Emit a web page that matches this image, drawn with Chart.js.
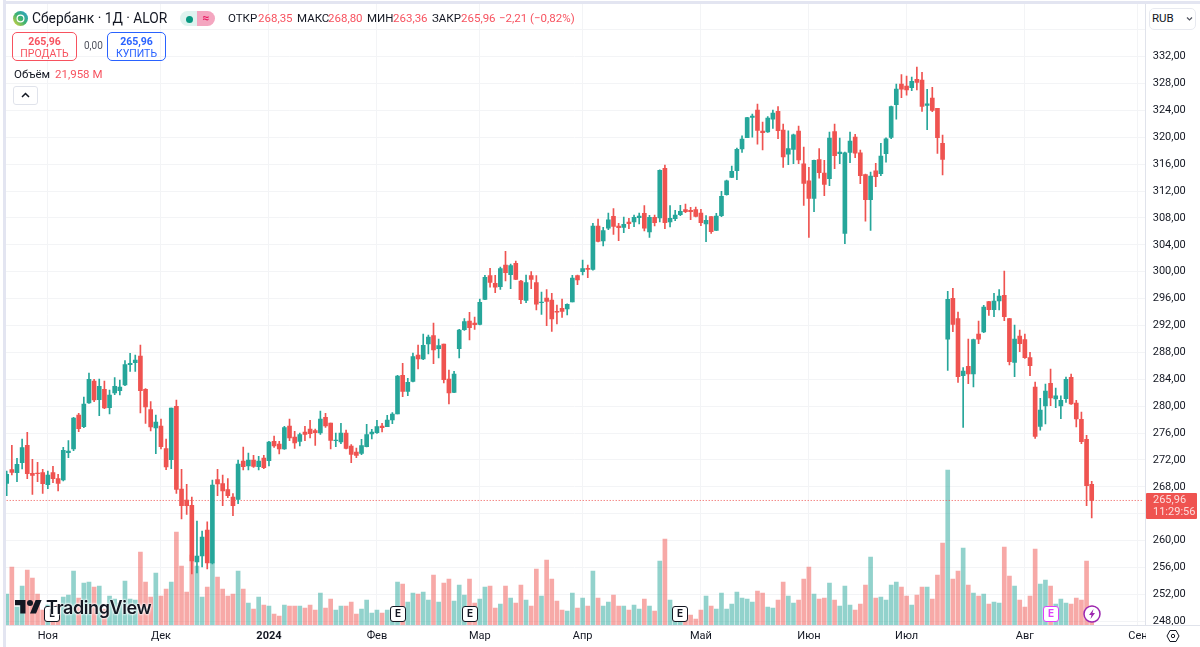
<!DOCTYPE html>
<html lang="ru">
<head>
<meta charset="utf-8">
<title>Сбербанк · 1Д · ALOR</title>
<script src="https://cdn.jsdelivr.net/npm/chart.js@4"></script>
<style>
    html, body { margin: 0; padding: 0; background: #fff; overflow: hidden; }
    body { width: 1200px; height: 647px; position: relative; font-family: Roboto, sans-serif; color: #131722; }
    canvas { position: absolute; left: 0; top: 0; }
    .o { position: absolute; white-space: nowrap; }
    .red { color: #f7525f; }
    .leg { top: 11px; font-size: 11.5px; line-height: 15px; }
    .box { border: 1px solid; border-radius: 5px; box-sizing: border-box; text-align: center; font-size: 10.5px; line-height: 12px; padding-top: 3px; }
    .ev { width: 16px; height: 16px; top: 606px; border: 1.5px solid #131722; border-radius: 3px; box-sizing: border-box; background: #fff; font: bold 10px/13px Inter, sans-serif; text-align: center; }
</style>
</head>
<body>
<canvas id="chart" width="1200" height="647"></canvas>

<div class="o" style="left:1146px;top:626px;width:54px;height:21px;background:#fff"></div>
<div class="o" style="left:1146px;top:625px;width:54px;height:1px;background:#e0e3eb"></div>
<div class="o" style="left:3px;top:0;width:3px;height:647px;background:#e3e5f1"></div>
<div class="o" style="left:3px;top:1px;width:1197px;height:3px;background:#e3e5f1"></div>

<svg class="o" style="left:13px;top:11px" width="15" height="15" viewBox="0 0 15 15">
    <defs><linearGradient id="sb" x1="0" y1="1" x2="1" y2="0"><stop offset="0" stop-color="#e8d63a"/><stop offset=".5" stop-color="#3cb371"/><stop offset="1" stop-color="#2a9fd6"/></linearGradient></defs>
    <circle cx="7.5" cy="7.5" r="7.5" fill="url(#sb)"/>
    <circle cx="7.5" cy="7.5" r="3.4" fill="none" stroke="#fff" stroke-width="1.2"/>
</svg>
<div class="o" style="left:32px;top:10px;font-size:13.8px;line-height:17px">Сбербанк · 1Д · ALOR</div>

<div class="o" style="left:180px;top:11px;width:18px;height:15px;background:#dff3ef;border-radius:8px 0 0 8px"></div>
<div class="o" style="left:186px;top:15.5px;width:7px;height:7px;background:#089981;border-radius:50%"></div>
<div class="o" style="left:197px;top:11px;width:18px;height:15px;background:#f4a6c0;border-radius:0 8px 8px 0;color:#e91e63;font-size:12px;line-height:15px;text-align:center;font-weight:bold">≈</div>

<div class="o leg" style="left:228px">ОТКР</div>
<div class="o leg red" style="left:258px">268,35</div>
<div class="o leg" style="left:297px">МАКС</div>
<div class="o leg red" style="left:328px">268,80</div>
<div class="o leg" style="left:367px">МИН</div>
<div class="o leg red" style="left:393px">263,36</div>
<div class="o leg" style="left:432px">ЗАКР</div>
<div class="o leg red" style="left:461px">265,96</div>
<div class="o leg red" style="left:499px">−2,21 (−0,82%)</div>

<div class="o box" style="left:12px;top:32px;width:65px;height:29px;border-color:#f7525f;color:#f7525f"><b>265,96</b><br>ПРОДАТЬ</div>
<div class="o" style="left:84px;top:40px;font-size:10px;line-height:12px;color:#50535e">0,00</div>
<div class="o box" style="left:107px;top:32px;width:59px;height:29px;border-color:#2962ff;color:#2962ff"><b>265,96</b><br>КУПИТЬ</div>

<div class="o" style="left:14px;top:67px;font-size:11.5px;line-height:15px">Объём</div>
<div class="o red" style="left:55px;top:67px;font-size:11.5px;line-height:15px">21,958 M</div>
<div class="o" style="left:13px;top:86px;width:25px;height:19px;border:1px solid #e0e3eb;border-radius:3px;box-sizing:border-box"></div>
<svg class="o" style="left:20px;top:91px" width="11" height="8" viewBox="0 0 11 8"><path d="M2 6l3.5-3.5L9 6" fill="none" stroke="#131722" stroke-width="1.5"/></svg>

<div class="o" style="left:1149px;top:8px;width:47px;height:22px;border:1px solid #e8eaf0;border-radius:5px;box-sizing:border-box;background:#fff"></div>
<div class="o" style="left:1152px;top:11px;font-size:11.5px;line-height:15px">RUB</div>
<svg class="o" style="left:1186px;top:16px" width="7" height="6" viewBox="0 0 7 6"><path d="M1 1.5l2.5 2.5L6 1.5" fill="none" stroke="#50535e" stroke-width="1.2"/></svg>

<div class="o" style="left:1146px;top:493px;width:51px;height:26px;background:#ef5350;border-radius:1px;color:rgba(255,255,255,.8);font-size:11px;line-height:12px;padding:1px 0 0 7px;box-sizing:border-box">265,96<br>11:29:56</div>

<div class="o ev" style="left:44px">L</div>
<svg class="o" style="left:15px;top:600px" width="27" height="15" viewBox="0 0 36 20"><path d="M14 18H7V7H0V0h14v18zM28 18h-8l7.5-18h8L28 18z" fill="#131722"/><circle cx="20" cy="4" r="4" fill="#131722"/></svg>
<div class="o" style="left:46px;top:597px;font:600 18px/22px Inter, sans-serif;letter-spacing:-.4px;text-shadow:0 0 2px #fff,0 0 2px #fff,0 0 3px #fff">TradingView</div>
<div class="o ev" style="left:390px">E</div>
<div class="o ev" style="left:462px">E</div>
<div class="o ev" style="left:672px">E</div>
<div class="o ev" style="left:1043px;border-color:#e040fb;color:#e040fb">E</div>
<svg class="o" style="left:1083px;top:605px" width="18" height="18" viewBox="0 0 18 18"><circle cx="9" cy="9" r="8" fill="#fff" stroke="#9c27b0" stroke-width="1.5"/><path d="M10.5 4L6 10h2.5L7.5 14 12 8H9.5z" fill="#9c27b0"/></svg>
<svg class="o" style="left:1166px;top:629px" width="14" height="14" viewBox="0 0 14 14"><path d="M4 1.5h6L13 7l-3 5.5H4L1 7z" fill="none" stroke="#131722" stroke-width="1"/><circle cx="7" cy="7" r="1.7" fill="none" stroke="#131722" stroke-width="1"/></svg>

<script>
const monthLabels = ['Ноя', 'Дек', '2024', 'Фев', 'Мар', 'Апр', 'Май', 'Июн', 'Июл', 'Авг', 'Сен'];
const monthStarts = [8, 30, 51, 72, 92, 112, 135, 156, 175, 198, 220];
const priceTicks = [248, 252, 256, 260, 264, 268, 272, 276, 280, 284, 288, 292, 296, 300, 304, 308, 312, 316, 320, 324, 328, 332, 336];
const barSlots = 222;

const opens = [
    268.51, 270.55, 270.10, 271.59, 274.17, 270.00, 270.05, 270.10, 268.31, 270.10,
    269.21, 269.01, 273.08, 273.62, 278.68, 276.94, 280.47, 283.74, 280.96, 282.50,
    279.77, 281.95, 282.30, 283.14, 286.17, 286.47, 287.46, 282.50, 279.47, 276.75,
    277.04, 273.67, 272.03, 279.97, 267.67, 266.03, 265.24, 256.80, 257.70, 261.57,
    256.66, 269.06, 268.46, 267.57, 266.48, 266.13, 271.84, 271.09, 271.98, 270.99,
    272.28, 271.88, 274.76, 274.36, 273.62, 277.04, 275.41, 274.76, 276.15, 276.60,
    276.35, 276.00, 278.33, 277.49, 274.86, 274.66, 276.00, 274.07, 273.17, 272.98,
    273.97, 275.85, 276.05, 277.04, 276.94, 277.94, 278.83, 284.58, 282.20, 283.69,
    287.61, 287.01, 289.24, 290.48, 288.55, 289.24, 284.04, 282.05, 288.55, 291.38,
    292.67, 292.37, 292.17, 295.89, 299.41, 298.27, 297.77, 301.00, 299.56, 301.25,
    298.62, 295.74, 299.41, 298.37, 295.39, 296.09, 295.79, 294.10, 294.55, 294.45,
    295.49, 299.41, 300.01, 300.50, 300.35, 306.80, 304.57, 306.50, 308.24, 306.80,
    306.60, 307.40, 307.40, 308.04, 308.69, 305.91, 308.09, 307.99, 315.38, 307.40,
    307.89, 308.49, 309.23, 309.13, 309.23, 308.73, 307.10, 308.19, 306.15, 308.34,
    311.46, 314.04, 315.03, 318.26, 319.94, 322.97, 324.06, 320.94, 320.79, 322.72,
    323.86, 321.08, 317.51, 318.21, 320.94, 316.07, 313.54, 310.92, 316.67, 314.69,
    313.84, 320.84, 317.56, 305.71, 317.76, 320.04, 317.71, 314.44, 310.72, 315.03,
    314.59, 317.56, 319.99, 324.85, 327.93, 327.63, 327.38, 328.62, 328.52, 324.75,
    325.85, 324.31, 319.10, 289.98, 296.04, 293.01, 284.53, 285.92, 284.78, 290.73,
    291.03, 295.54, 294.35, 295.64, 296.48, 293.01, 286.51, 290.43, 289.89, 287.21,
    282.84, 276.99, 280.02, 283.39, 281.06, 280.02, 281.11, 284.28, 280.46, 278.03,
    275.06, 268.35
];
const highs = [
    270.35, 274.17, 272.23, 275.11, 276.10, 272.08, 271.64, 270.60, 270.35, 271.04,
    269.85, 273.87, 274.86, 278.33, 278.93, 281.36, 284.93, 283.99, 284.04, 283.74,
    282.40, 284.24, 283.89, 286.76, 287.86, 287.61, 289.10, 282.60, 280.66, 278.68,
    278.08, 275.11, 279.72, 280.91, 270.60, 268.36, 266.47, 262.91, 261.42, 262.80,
    269.01, 270.60, 269.75, 269.21, 266.97, 271.98, 273.92, 273.03, 272.68, 272.53,
    272.68, 274.76, 275.56, 274.76, 276.99, 278.08, 276.25, 276.00, 276.99, 277.89,
    276.60, 279.28, 278.93, 277.49, 276.00, 277.44, 276.45, 274.27, 273.77, 275.06,
    277.29, 276.55, 277.89, 277.44, 278.63, 279.03, 284.58, 286.37, 284.14, 287.91,
    289.10, 290.73, 290.58, 292.37, 289.99, 289.24, 285.38, 285.18, 291.43, 293.01,
    293.95, 293.26, 295.94, 299.46, 300.50, 299.46, 300.70, 303.03, 301.15, 301.59,
    298.72, 299.51, 300.01, 299.41, 296.98, 297.33, 296.78, 295.05, 295.94, 295.24,
    299.46, 299.51, 301.74, 301.00, 307.20, 307.84, 306.60, 308.74, 309.38, 307.20,
    308.14, 307.94, 308.44, 308.74, 309.83, 308.39, 308.44, 315.18, 315.88, 309.83,
    309.13, 309.88, 310.07, 309.58, 309.63, 309.28, 308.34, 308.19, 308.68, 311.96,
    313.64, 315.73, 318.41, 320.24, 322.97, 323.46, 324.95, 322.27, 323.07, 324.06,
    324.56, 321.98, 320.98, 320.49, 321.68, 318.55, 315.53, 316.62, 318.31, 316.57,
    320.79, 321.98, 319.89, 317.81, 320.79, 320.44, 318.11, 314.54, 314.83, 316.12,
    319.10, 319.94, 324.66, 327.93, 329.32, 329.12, 328.97, 330.46, 329.66, 327.14,
    327.43, 324.31, 320.34, 297.08, 297.52, 294.00, 285.72, 289.98, 289.98, 292.66,
    294.99, 295.59, 296.78, 297.33, 300.10, 293.06, 292.07, 291.32, 290.73, 288.00,
    283.59, 281.16, 283.29, 285.52, 282.69, 281.55, 284.33, 284.78, 280.86, 279.12,
    275.65, 268.80
];
const lows = [
    266.68, 269.75, 268.76, 270.64, 269.21, 266.88, 268.76, 267.02, 267.72, 268.61,
    267.37, 268.86, 272.33, 273.37, 276.20, 276.80, 280.42, 280.66, 278.58, 279.62,
    278.83, 281.71, 281.66, 283.04, 285.18, 285.18, 278.98, 277.44, 276.30, 272.93,
    273.62, 270.55, 270.69, 267.02, 263.20, 263.90, 255.02, 255.17, 256.06, 255.76,
    256.51, 266.68, 265.19, 266.38, 263.70, 265.49, 270.50, 270.50, 270.89, 270.50,
    270.69, 271.09, 273.87, 272.88, 273.57, 274.86, 273.72, 274.07, 274.86, 275.26,
    274.17, 275.80, 276.84, 273.62, 273.97, 274.41, 273.62, 271.59, 272.33, 272.78,
    273.92, 275.11, 275.95, 276.15, 276.94, 277.39, 278.83, 281.41, 281.56, 283.59,
    285.52, 286.91, 287.76, 286.32, 287.16, 283.44, 280.32, 282.00, 287.16, 291.28,
    289.84, 291.43, 292.07, 295.84, 297.72, 296.88, 297.38, 298.62, 297.48, 298.82,
    295.24, 295.39, 297.48, 294.30, 293.66, 291.97, 291.13, 292.22, 293.21, 293.56,
    295.49, 298.07, 299.51, 299.11, 300.25, 304.42, 303.83, 306.26, 305.56, 304.62,
    305.81, 306.40, 306.70, 307.10, 306.06, 305.11, 306.80, 307.40, 306.40, 306.65,
    307.59, 308.34, 308.79, 307.74, 308.14, 306.85, 304.47, 305.71, 306.10, 308.19,
    311.41, 313.99, 313.69, 317.76, 319.94, 320.04, 319.00, 318.11, 320.74, 321.33,
    319.79, 315.53, 315.93, 316.07, 316.07, 309.87, 305.11, 308.93, 313.94, 311.31,
    312.80, 315.33, 316.07, 304.17, 316.22, 316.97, 313.10, 307.54, 306.15, 312.65,
    314.29, 316.32, 319.79, 322.72, 325.90, 326.29, 326.94, 327.04, 323.86, 321.13,
    323.81, 317.61, 314.39, 285.32, 291.08, 283.54, 276.84, 283.34, 282.84, 289.29,
    290.93, 293.51, 293.31, 294.30, 292.71, 286.12, 284.38, 288.10, 287.11, 284.53,
    275.20, 276.44, 277.34, 280.06, 279.77, 278.13, 280.56, 280.26, 276.89, 274.41,
    265.18, 263.36
];
const closes = [
    269.85, 270.15, 271.34, 273.82, 269.95, 269.70, 269.95, 268.46, 269.75, 269.21,
    268.51, 273.42, 273.32, 278.23, 276.65, 280.32, 283.99, 280.91, 282.95, 279.72,
    281.66, 282.95, 282.85, 286.17, 286.37, 286.86, 282.30, 279.87, 276.89, 277.64,
    273.97, 270.94, 279.72, 267.62, 265.19, 265.19, 256.95, 257.70, 260.52, 256.66,
    268.26, 268.41, 267.37, 266.68, 265.19, 271.39, 270.99, 271.98, 271.04, 271.84,
    270.84, 274.66, 274.07, 273.62, 276.80, 275.26, 274.51, 275.75, 275.80, 275.90,
    276.05, 278.08, 277.04, 274.91, 274.96, 276.00, 273.72, 272.83, 272.68, 274.12,
    275.75, 276.15, 276.94, 276.80, 277.94, 278.83, 284.48, 282.20, 283.54, 287.36,
    287.01, 289.05, 290.29, 288.35, 289.00, 283.94, 281.95, 284.78, 291.33, 292.57,
    291.67, 292.12, 295.44, 299.16, 298.42, 297.72, 300.45, 299.86, 300.90, 298.87,
    295.84, 298.37, 298.87, 295.19, 295.49, 295.59, 292.96, 294.00, 294.10, 295.15,
    299.06, 298.77, 300.45, 300.35, 306.80, 304.52, 306.11, 307.74, 306.75, 306.55,
    307.05, 307.15, 308.09, 308.29, 306.50, 308.09, 307.30, 315.08, 307.30, 307.94,
    308.44, 308.98, 308.93, 308.93, 308.24, 307.30, 307.64, 305.96, 308.29, 311.21,
    313.54, 314.93, 318.21, 319.74, 322.92, 323.17, 321.03, 320.69, 322.87, 323.61,
    320.98, 317.07, 318.31, 320.39, 316.62, 313.15, 310.92, 316.57, 314.74, 313.00,
    319.89, 317.26, 317.81, 317.71, 319.45, 317.66, 314.29, 310.72, 314.24, 314.14,
    317.22, 319.79, 324.56, 327.18, 327.18, 327.04, 328.33, 328.18, 324.61, 325.00,
    324.01, 319.94, 316.72, 295.89, 292.17, 284.38, 285.22, 284.78, 289.89, 289.98,
    294.75, 294.35, 295.64, 296.38, 293.31, 286.61, 289.98, 289.29, 287.21, 286.02,
    275.50, 279.42, 282.25, 281.21, 281.55, 280.86, 283.98, 280.31, 278.08, 274.71,
    268.16, 265.96
];
const volumes = [
    31, 58, 18, 39, 55, 47, 31, 15, 20, 18,
    20, 28, 30, 54, 27, 42, 43, 38, 39, 16,
    29, 26, 22, 44, 26, 25, 73, 43, 28, 52,
    29, 36, 43, 93, 59, 33, 70, 59, 28, 38,
    62, 48, 36, 29, 31, 54, 36, 22, 16, 28,
    20, 19, 11, 9, 20, 19, 19, 19, 17, 20,
    15, 32, 17, 26, 15, 19, 19, 23, 11, 16,
    25, 12, 15, 12, 15, 17, 43, 41, 23, 32,
    31, 33, 25, 50, 23, 42, 46, 24, 40, 30,
    46, 22, 26, 38, 39, 17, 21, 39, 27, 22,
    40, 25, 19, 56, 29, 65, 46, 24, 15, 14,
    32, 17, 27, 19, 54, 27, 19, 23, 30, 19,
    19, 15, 20, 16, 26, 19, 14, 64, 86, 25,
    15, 10, 8, 10, 6, 15, 29, 19, 16, 32,
    16, 21, 33, 27, 26, 23, 34, 32, 18, 17,
    25, 43, 29, 22, 25, 46, 58, 31, 26, 27,
    42, 25, 19, 39, 20, 15, 21, 40, 68, 27,
    28, 25, 40, 43, 38, 29, 20, 30, 38, 38,
    26, 50, 82, 155, 46, 54, 77, 40, 32, 29,
    31, 21, 23, 22, 78, 49, 39, 25, 18, 29,
    76, 41, 45, 39, 21, 26, 22, 21, 27, 25,
    64, 19
];
const lastClose = 265.96;

const UP = '#26a69a';
const DOWN = '#ef5350';
const UP_VOL = 'rgba(38,166,154,0.5)';
const DOWN_VOL = 'rgba(239,83,80,0.5)';
const GRID = '#f3f4f6';
const AXIS = '#e0e3eb';

onload = () => {
    const labels = [];
    for (let i = 0; i < barSlots; i++) {
        const m = monthStarts.indexOf(i);
        labels[i] = m === -1 ? '' : monthLabels[m];
    }
    const isUp = opens.map((o, i) => closes[i] >= o);

    new Chart(document.getElementById('chart'), {
        type: 'bar',
        data: {
            labels,
            datasets: [
                {
                    label: 'Тело',
                    data: opens.map((o, i) => [o, closes[i]]),
                    backgroundColor: isUp.map(u => u ? UP : DOWN),
                    barThickness: 4,
                    grouped: false,
                    order: 1
                },
                {
                    label: 'Тень',
                    data: lows.map((l, i) => [l, highs[i]]),
                    backgroundColor: isUp.map(u => u ? UP : DOWN),
                    barThickness: 1,
                    grouped: false,
                    order: 2
                },
                {
                    type: 'line',
                    label: 'Цена',
                    data: labels.map(() => lastClose),
                    borderColor: DOWN,
                    borderWidth: 1,
                    borderDash: [1, 2],
                    pointRadius: 0,
                    order: 3
                },
                {
                    label: 'Объём',
                    data: volumes,
                    yAxisID: 'y2',
                    backgroundColor: isUp.map(u => u ? UP_VOL : DOWN_VOL),
                    barThickness: 4,
                    grouped: false,
                    order: 4
                }
            ]
        },
        options: {
            responsive: false,
            animation: false,
            layout: { autoPadding: false, padding: { left: 4.13, top: 4, right: 0, bottom: 0 } },
            plugins: { legend: { display: false }, tooltip: { enabled: false } },
            scales: {
                x: {
                    type: 'category',
                    offset: true,
                    afterFit: s => {
                        s.height = 22;
                        s.paddingLeft = 0;
                        s.paddingRight = 0;
                    },
                    border: { color: AXIS },
                    grid: {
                        offset: false,
                        drawTicks: false,
                        color: ctx => labels[ctx.index] ? GRID : 'transparent'
                    },
                    ticks: {
                        autoSkip: false,
                        maxRotation: 0,
                        padding: 5,
                        color: '#131722',
                        font: ctx => ({
                            family: 'Roboto',
                            size: 11,
                            weight: ctx.tick && ctx.tick.label === '2024' ? 'bold' : 'normal'
                        })
                    }
                },
                y: {
                    position: 'right',
                    bounds: 'data',
                    min: 247.43,
                    max: 339.84,
                    afterBuildTicks: s => { s.ticks = priceTicks.map(value => ({ value })); },
                    afterFit: s => {
                        s.width = 54.3;
                        s.paddingTop = 0;
                        s.paddingBottom = 0;
                    },
                    border: { color: AXIS },
                    grid: { color: GRID, drawTicks: false },
                    ticks: {
                        padding: 7,
                        color: '#131722',
                        font: { family: 'Roboto', size: 11 },
                        callback: v => v > 332 ? '' : v.toFixed(2).replace('.', ',')
                    }
                },
                y2: {
                    display: false,
                    position: 'right',
                    min: 0,
                    max: 621
                }
            }
        }
    });
};
</script>
</body>
</html>
